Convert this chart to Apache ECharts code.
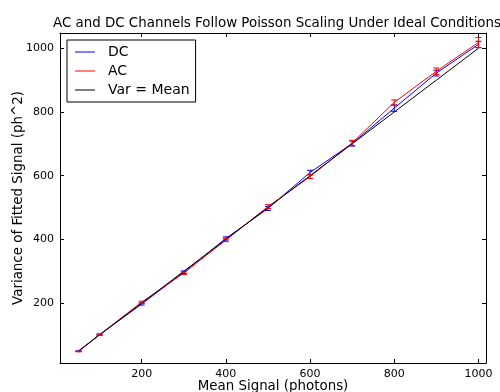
<!DOCTYPE html>
<html>
<head>
<meta charset="utf-8">
<script src="https://cdn.jsdelivr.net/npm/echarts@6/dist/echarts.min.js"></script>
<style>
  html, body { margin: 0; padding: 0; background: #fff; }
  #chart { width: 500px; height: 392px; }
</style>
</head>
<body>
<div id="chart"></div>
<script>
// Mean signal levels (photons)
const meanSignal = [50, 100, 200, 300, 400, 500, 600, 700, 800, 900, 1000];
// Fitted variance, DC channel, with 1-sigma errors
const dcVar = [49, 101, 197, 297, 403, 497, 610, 701, 812, 922, 1012];
const dcErr = [1, 2, 3, 4, 5, 6, 7, 8, 10, 9, 10];
// Fitted variance, AC channel, with 1-sigma errors
const acVar = [48, 101, 203, 294, 398, 503, 597, 703, 830, 928, 1018];
const acErr = [1, 2, 3, 4, 5, 6, 6, 8, 8, 10, 16];
// Poisson reference: variance equals mean
const idealVar = meanSignal.slice();
const tickValues = [200, 400, 600, 800, 1000];

const FONT = 'DejaVu Sans';

function pairs(ys) { return meanSignal.map((x, i) => [x, ys[i]]); }
function errRows(ys, es) { return meanSignal.map((x, i) => [x, ys[i], es[i]]); }

function errorBarRenderer(color) {
  return function (params, api) {
    const x = api.value(0), y = api.value(1), e = api.value(2);
    const top = api.coord([x, y + e]);
    const bot = api.coord([x, y - e]);
    const cap = 3;
    const style = { stroke: color, lineWidth: 1 };
    return {
      type: 'group',
      children: [
        { type: 'line', shape: { x1: top[0], y1: top[1], x2: bot[0], y2: bot[1] }, style },
        { type: 'line', shape: { x1: top[0] - cap, y1: top[1], x2: top[0] + cap, y2: top[1] }, style },
        { type: 'line', shape: { x1: bot[0] - cap, y1: bot[1], x2: bot[0] + cap, y2: bot[1] }, style }
      ]
    };
  };
}

const X_MIN = 6, X_MAX = 1018, Y_MIN = 12, Y_MAX = 1048;

function makeAxis(pos, showLabels, isX) {
  return {
    type: 'value',
    position: pos,
    min: isX ? X_MIN : Y_MIN,
    max: isX ? X_MAX : Y_MAX,
    splitLine: { show: false },
    axisLine: { show: true, onZero: false, lineStyle: { color: '#000', width: 1 } },
    axisTick: { show: true, inside: true, length: 4, customValues: tickValues, lineStyle: { color: '#000' } },
    axisLabel: {
      show: showLabels, customValues: tickValues, color: '#000',
      fontFamily: FONT, fontSize: 11, margin: 6,
      formatter: (v) => String(v)
    }
  };
}

const chart = echarts.init(document.getElementById('chart'), null, { renderer: 'canvas' });

chart.setOption({
  animation: false,
  backgroundColor: '#fff',
  title: {
    text: 'AC and DC Channels Follow Poisson Scaling Under Ideal Conditions',
    left: 272, top: 12, textAlign: 'center',
    textStyle: { fontFamily: FONT, fontSize: 13.4, fontWeight: 'normal', color: '#000' }
  },
  grid: { left: 60, top: 33, width: 426, height: 330, containLabel: false, outerBoundsMode: 'none' },
  legend: {
    orient: 'vertical', left: 67, top: 40,
    padding: [5, 6, 5, 8], itemGap: 5,
    itemWidth: 20, itemHeight: 1,
    borderColor: '#000', borderWidth: 1, backgroundColor: '#fff',
    textStyle: { fontFamily: FONT, fontSize: 14, color: '#000', padding: [0, 0, 0, 8] },
    data: [
      { name: 'DC', icon: 'rect' },
      { name: 'AC', icon: 'rect' },
      { name: 'Var = Mean', icon: 'rect' }
    ]
  },
  xAxis: [
    Object.assign(makeAxis('bottom', true, true), {
      name: 'Mean Signal (photons)', nameLocation: 'middle', nameGap: 17, nameMoveOverlap: false,
      nameTextStyle: { fontFamily: FONT, fontSize: 13.4, color: '#000' }
    }),
    makeAxis('top', false, true)
  ],
  yAxis: [
    Object.assign(makeAxis('left', true, false), {
      name: 'Variance of Fitted Signal (ph^2)', nameLocation: 'middle', nameGap: 35, nameMoveOverlap: false,
      nameTextStyle: { fontFamily: FONT, fontSize: 13.4, color: '#000' }
    }),
    makeAxis('right', false, false)
  ],
  series: [
    {
      name: 'DC', type: 'line', data: pairs(dcVar), showSymbol: false, symbol: 'none',
      lineStyle: { color: '#0000ff', width: 1 }, itemStyle: { color: '#0000ff' }, z: 3
    },
    {
      name: 'AC', type: 'line', data: pairs(acVar), showSymbol: false, symbol: 'none',
      lineStyle: { color: '#ff0000', width: 1 }, itemStyle: { color: '#ff0000' }, z: 4
    },
    {
      name: 'Var = Mean', type: 'line', data: pairs(idealVar), showSymbol: false, symbol: 'none',
      lineStyle: { color: '#000000', width: 1 }, itemStyle: { color: '#000000' }, z: 5
    },
    {
      type: 'custom', data: errRows(dcVar, dcErr), renderItem: errorBarRenderer('#0000ff'),
      encode: { x: 0, y: 1 }, z: 6, silent: true
    },
    {
      type: 'custom', data: errRows(acVar, acErr), renderItem: errorBarRenderer('#ff0000'),
      encode: { x: 0, y: 1 }, z: 7, silent: true
    }
  ]
});
</script>
</body>
</html>
